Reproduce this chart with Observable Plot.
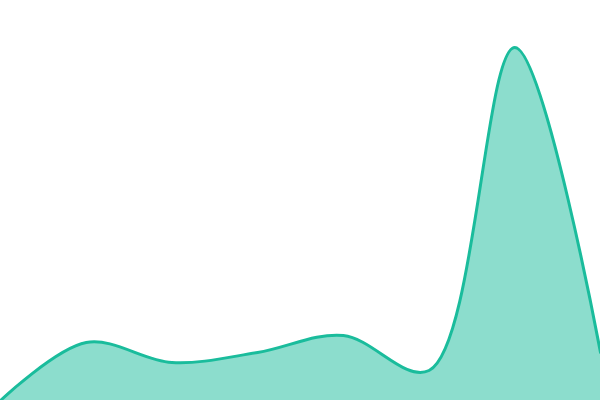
<!DOCTYPE html>
<html>
<head>
<meta charset="utf-8">
<script src="https://cdn.jsdelivr.net/npm/d3@7"></script>
<script src="https://cdn.jsdelivr.net/npm/@observablehq/plot@0.6"></script>
<style>
  html, body { margin: 0; padding: 0; background: #fff; }
</style>
</head>
<body>
<div id="chart"></div>
<script>
const steps = [0, 1, 2, 3, 4, 5, 6, 7];
const values = [0, 58, 38, 48, 65, 30, 353, 48];

const data = steps.map((s, i) => ({x: s, y: values[i]}));

const chart = Plot.plot({
  width: 600,
  height: 400,
  margin: 0,
  x: {domain: [0, 7], axis: null},
  y: {domain: [0, 400], axis: null},
  marks: [
    Plot.areaY(data, {x: "x", y: "y", curve: "catmull-rom", fill: "#1abc9c", fillOpacity: 0.5}),
    Plot.lineY(data, {x: "x", y: "y", curve: "catmull-rom", stroke: "#1abc9c", strokeWidth: 3})
  ]
});
document.getElementById("chart").appendChild(chart);
</script>
</body>
</html>
